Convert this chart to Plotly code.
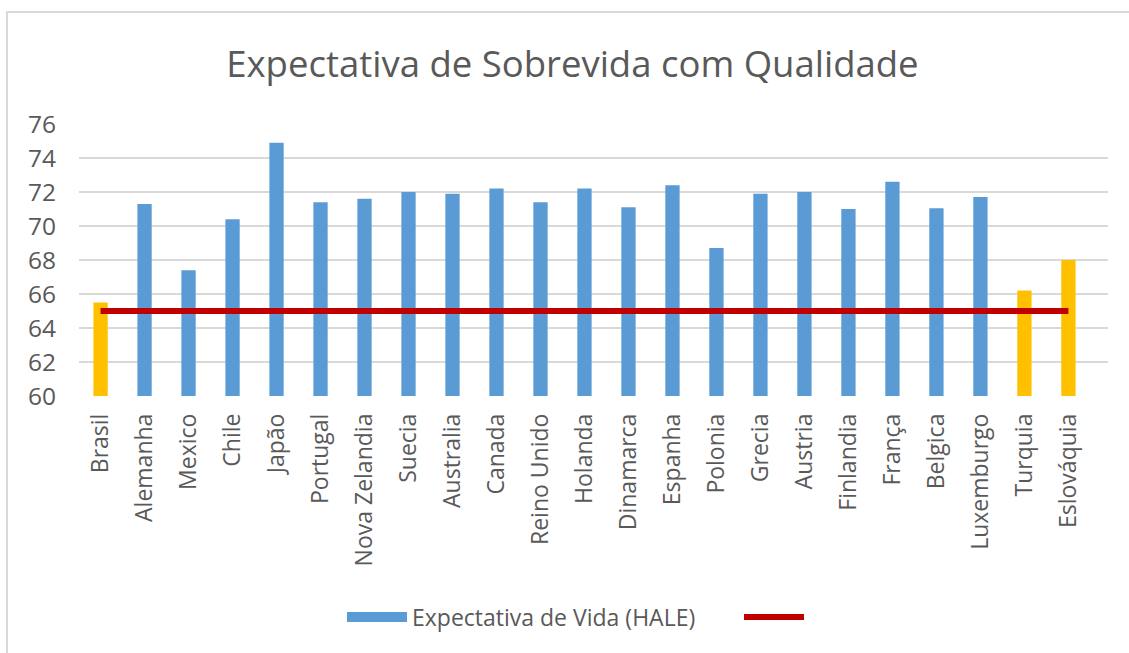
import plotly.graph_objects as go

countries = ["Brasil", "Alemanha", "Mexico", "Chile", "Japão", "Portugal", "Nova Zelandia",
             "Suecia", "Australia", "Canada", "Reino Unido", "Holanda", "Dinamarca", "Espanha",
             "Polonia", "Grecia", "Austria", "Finlandia", "França", "Belgica", "Luxemburgo",
             "Turquia", "Eslováquia"]
hale = [65.5, 71.3, 67.4, 70.4, 74.9, 71.4, 71.6, 72.0, 71.9, 72.2, 71.4, 72.2, 71.1, 72.4,
        68.7, 71.9, 72.0, 71.0, 72.6, 71.05, 71.7, 66.2, 68.0]
highlight = ["Brasil", "Turquia", "Eslováquia"]
reference_value = 65
y_ticks = [60, 62, 64, 66, 68, 70, 72, 74, 76]
series_name = "Expectativa de Vida (HALE)"

BLUE = "#5B9BD5"
YELLOW = "#FFC000"
RED = "#C00000"
TEXT = "#595959"
GRID = "#D9D9D9"
FONT = "Open Sans"

blue_vals = [None if c in highlight else v for c, v in zip(countries, hale)]
yellow_vals = [v if c in highlight else None for c, v in zip(countries, hale)]

fig = go.Figure()
fig.add_trace(go.Bar(
    x=countries, y=blue_vals, name=series_name, showlegend=False, legendgroup="hale",
    marker=dict(color=BLUE, line=dict(width=0)), width=0.325,
))
fig.add_trace(go.Bar(
    x=countries, y=yellow_vals, name="destaque", showlegend=False, legendgroup="hale",
    marker=dict(color=YELLOW, line=dict(width=0)), width=0.325,
))
# legend proxy: wide blue swatch like the original legend key
fig.add_trace(go.Scatter(
    x=[None], y=[None], name=series_name, mode="lines", legendgroup="hale",
    line=dict(color=BLUE, width=11), legend="legend",
))
fig.add_trace(go.Scatter(
    x=countries, y=[reference_value] * len(countries), name="",
    mode="lines", line=dict(color=RED, width=6), legend="legend2",
))

legend_common = dict(orientation="h", xref="container", yref="container", xanchor="left",
                     y=1 - 617 / 653, yanchor="middle", itemwidth=60,
                     font=dict(size=23, color=TEXT), bgcolor="rgba(0,0,0,0)")

fig.update_layout(
    width=1129, height=653,
    barmode="overlay",
    margin=dict(l=79, r=21, t=124, b=257),
    paper_bgcolor="white", plot_bgcolor="white",
    font=dict(family=FONT, color=TEXT, size=23),
    title=dict(text="Expectativa de Sobrevida com Qualidade",
               x=0.507, xanchor="center", y=1 - 64 / 653, yanchor="middle",
               font=dict(family=FONT, size=36.5, color=TEXT)),
    showlegend=True,
    legend=dict(x=342 / 1129, **legend_common),
    legend2=dict(x=739 / 1129, **legend_common),
    xaxis=dict(range=[-0.49, 22.9], tickangle=-90, showgrid=False, showline=False,
               ticks="", ticklabelstandoff=12, tickfont=dict(size=23, color=TEXT),
               fixedrange=True),
    yaxis=dict(range=[60, 76], tickvals=y_ticks, showgrid=True, gridcolor=GRID, gridwidth=1.5,
               zeroline=False, showline=False, ticks="", ticklabelstandoff=22,
               tickfont=dict(size=24.5, color=TEXT)),
    shapes=[dict(type="rect", xref="paper", yref="paper",
                 x0=(7 - 79) / 1029, x1=1.2, y0=-2.0, y1=(396 - 12) / 272,
                 line=dict(color=GRID, width=2), fillcolor="rgba(0,0,0,0)", layer="below")],
)

fig.write_html("out.html", config={"displayModeBar": False},
               post_script="document.body.style.margin='0';")
